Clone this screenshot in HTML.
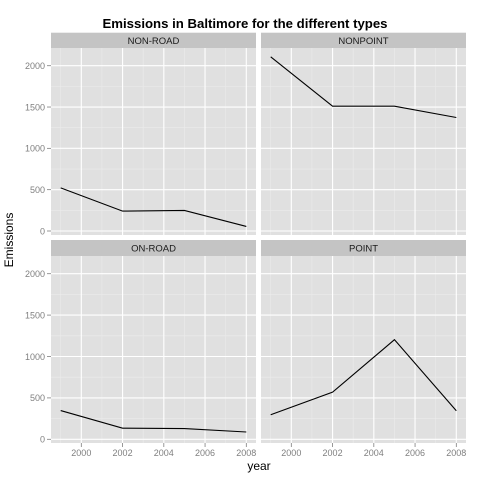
<!DOCTYPE html>
<html><head><meta charset="utf-8"><style>
html,body{margin:0;padding:0;background:#fff;}
svg{display:block;font-family:"Liberation Sans",Arial,sans-serif;}
</style></head><body>
<svg id="chart" width="480" height="480" viewBox="0 0 480 480" xmlns="http://www.w3.org/2000/svg">
<text x="245" y="28" text-anchor="middle" font-size="13.2" font-weight="bold" fill="#000">Emissions in Baltimore for the different types</text>
<text x="13" y="240" text-anchor="middle" font-size="12" fill="#000" transform="rotate(-90 13 240)">Emissions</text>
<text x="259" y="470" text-anchor="middle" font-size="12" fill="#000">year</text>
<g id="panels"></g>
</svg>
<script>
const years = [1999, 2002, 2005, 2008];
const panelNames = ["NON-ROAD", "NONPOINT", "ON-ROAD", "POINT"];
const nonRoad = [522, 241, 249, 55];
const nonPoint = [2107, 1510, 1510, 1373];
const onRoad = [347, 134, 130, 88];
const point = [297, 569, 1203, 345];
const yTicks = [0, 500, 1000, 1500, 2000];
const xTicks = [2000, 2002, 2004, 2006, 2008];
const series = [nonRoad, nonPoint, onRoad, point];

const NS = "http://www.w3.org/2000/svg";
const g = document.getElementById("panels");
function mk(tag, attrs, parent) {
  const e = document.createElementNS(NS, tag);
  for (const k in attrs) e.setAttribute(k, attrs[k]);
  (parent || g).appendChild(e);
  return e;
}
const cols = [{l: 51, r: 256}, {l: 261, r: 466}];
const rows = [{st: 32.7, t: 48, b: 235, y0: 231, y2000: 65.7}, {st: 240, t: 256, b: 443, y0: 439.3, y2000: 273.7}];
const xMin = 1998.53, xMax = 2008.47;

series.forEach((vals, i) => {
  const c = cols[i % 2], r = rows[Math.floor(i / 2)];
  const xs = v => c.l + (v - xMin) / (xMax - xMin) * (c.r - c.l);
  const ys = v => r.y0 + (v / 2000) * (r.y2000 - r.y0);
  const pg = mk("g", {});
  
  
  mk("rect", {x: c.l, y: r.st, width: c.r - c.l, height: r.t - r.st, fill: "#c4c4c4"}, pg);
  const st = mk("text", {x: (c.l + c.r) / 2, y: r.st + 11.5, "text-anchor": "middle", "font-size": "9.5", fill: "#1a1a1a"}, pg);
  st.textContent = panelNames[i];
  
  
  mk("rect", {x: c.l, y: r.t, width: c.r - c.l, height: r.b - r.t, fill: "#e0e0e0"}, pg);
  for (let y = 1999; y <= 2007; y += 2) mk("line", {x1: xs(y), x2: xs(y), y1: r.t, y2: r.b, stroke: "#ebebeb", "stroke-width": 0.6}, pg);
  for (let v = 250; v <= 2250; v += 500) { if (ys(v) > r.t) mk("line", {x1: c.l, x2: c.r, y1: ys(v), y2: ys(v), stroke: "#ebebeb", "stroke-width": 0.6}, pg); }
  xTicks.forEach(t => mk("line", {x1: xs(t), x2: xs(t), y1: r.t, y2: r.b, stroke: "#fff", "stroke-width": 1.1}, pg));
  yTicks.forEach(t => mk("line", {x1: c.l, x2: c.r, y1: ys(t), y2: ys(t), stroke: "#fff", "stroke-width": 1.1}, pg));
  if (i % 2 === 0) yTicks.forEach(t => {
    mk("line", {x1: c.l - 4, x2: c.l, y1: ys(t), y2: ys(t), stroke: "#7f7f7f", "stroke-width": 0.8}, pg);
    const tx = mk("text", {x: c.l - 6, y: ys(t) + 3.3, "text-anchor": "end", "font-size": "9", fill: "#7f7f7f"}, pg);
    tx.textContent = t;
    
    
  });
  if (i >= 2) xTicks.forEach(t => {
    mk("line", {x1: xs(t), x2: xs(t), y1: r.b, y2: r.b + 4, stroke: "#7f7f7f", "stroke-width": 0.8}, pg);
    const tx = mk("text", {x: xs(t), y: r.b + 13, "text-anchor": "middle", "font-size": "9", fill: "#7f7f7f"}, pg);
    tx.textContent = t;
    
    
  });
  const pts = vals.map((v, k) => xs(years[k]).toFixed(2) + "," + ys(v).toFixed(2)).join(" ");
  const line = mk("polyline", {points: pts, fill: "none", stroke: "#000", "stroke-width": 1.1}, pg);
  
  
});
</script>
</body></html>
